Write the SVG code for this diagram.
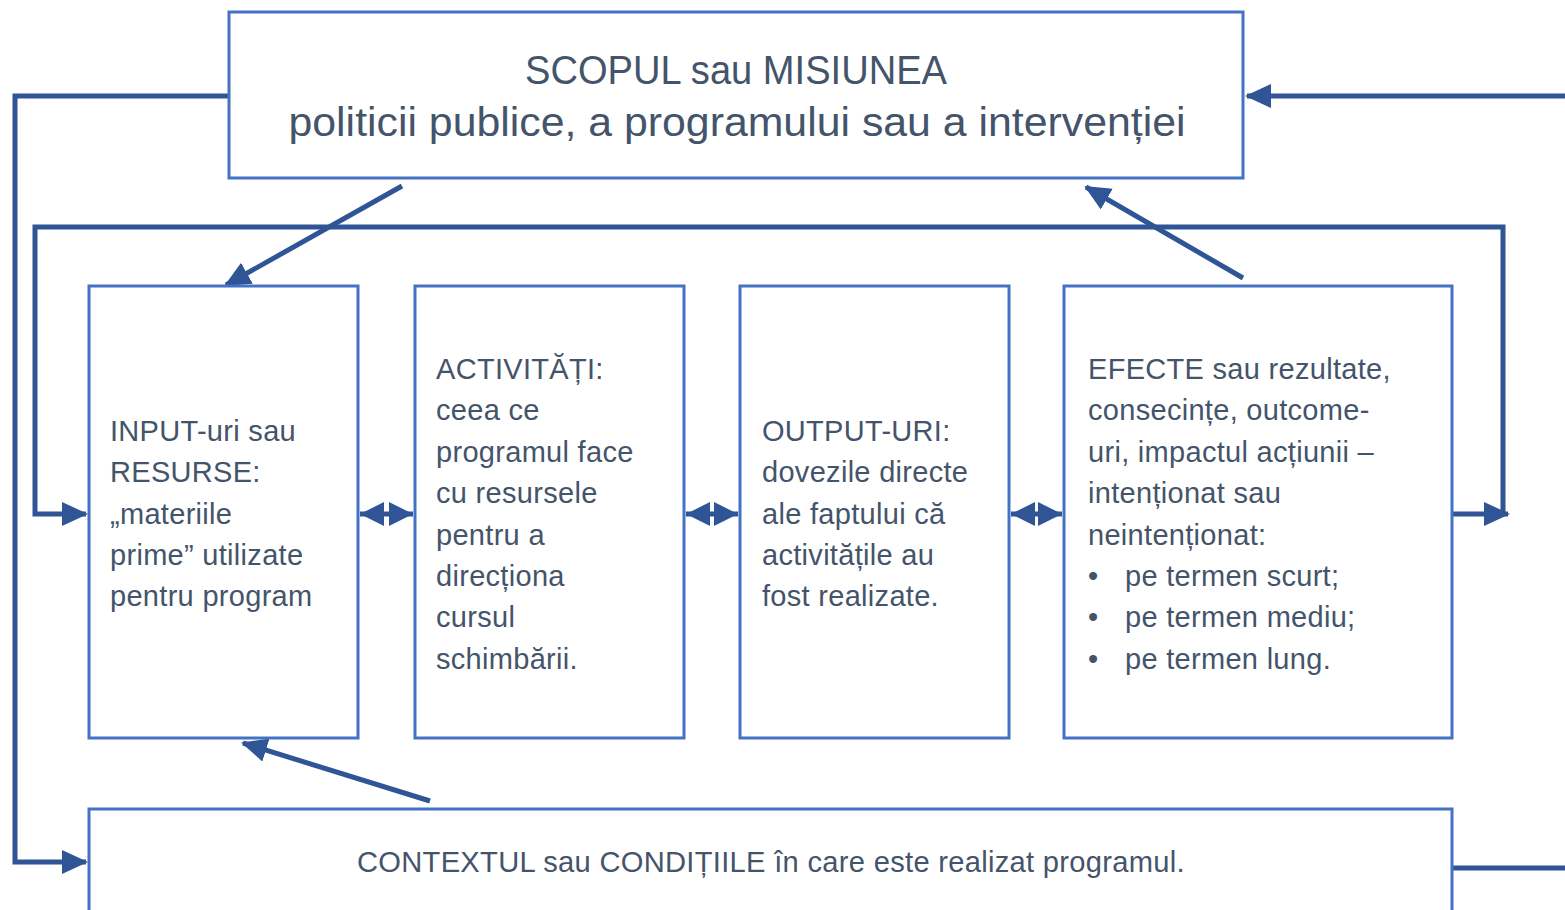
<svg xmlns="http://www.w3.org/2000/svg" width="1565" height="910" viewBox="0 0 1565 910">
<style>
.box{fill:#fff;stroke:#4472C4;stroke-width:3}
.t{font-family:"Liberation Sans",Arial,sans-serif;font-size:29px;letter-spacing:0.3px;fill:#44546A}
.tt{font-family:"Liberation Sans",Arial,sans-serif;font-size:40px;fill:#44546A}
.c{fill:none;stroke:#2F5597;stroke-width:5}
</style>
<defs>
<marker id="ah" markerUnits="userSpaceOnUse" markerWidth="26" markerHeight="24" refX="24" refY="12" orient="auto-start-reverse">
<path d="M0,0 L26,12 L0,24 Z" fill="#2F5597"/>
</marker>
<marker id="ah2" markerUnits="userSpaceOnUse" markerWidth="24" markerHeight="24" refX="24" refY="12" orient="auto-start-reverse">
<path d="M0,0 L24,12 L0,24 Z" fill="#2F5597"/>
</marker>
</defs>
<rect width="1565" height="910" fill="#fff"/>
<g id="connectors">
<polyline class="c" points="229,96 15,96 15,862 86,862" marker-end="url(#ah)"/>
<line class="c" x1="1565" y1="96" x2="1247" y2="96" marker-end="url(#ah)"/>
<polyline class="c" points="1503,512 1503,227 35,227 35,514 86,514" marker-end="url(#ah)"/>
<line class="c" x1="1452" y1="514" x2="1508" y2="514" marker-end="url(#ah)"/>
<line class="c" x1="402" y1="186" x2="226" y2="285" marker-end="url(#ah)"/>
<line class="c" x1="1243" y1="278" x2="1086" y2="187" marker-end="url(#ah)"/>
<line class="c" x1="430" y1="801" x2="243" y2="743" marker-end="url(#ah)"/>
<line class="c" x1="1452" y1="868" x2="1565" y2="868"/>
<line class="c" x1="360" y1="514" x2="413" y2="514" marker-start="url(#ah2)" marker-end="url(#ah2)"/>
<line class="c" x1="686" y1="514" x2="738" y2="514" marker-start="url(#ah2)" marker-end="url(#ah2)"/>
<line class="c" x1="1011" y1="514" x2="1062" y2="514" marker-start="url(#ah2)" marker-end="url(#ah2)"/>
</g>
<g id="scop">
<rect class="box" x="229" y="12" width="1014" height="166"/>
<text class="tt" x="736" y="84" text-anchor="middle" textLength="422" lengthAdjust="spacingAndGlyphs">SCOPUL sau MISIUNEA</text>
<text class="tt" x="737" y="136" text-anchor="middle" textLength="897" lengthAdjust="spacingAndGlyphs">politicii publice, a programului sau a intervenției</text>
</g>
<g id="input">
<rect class="box" x="89" y="286" width="269" height="452"/>
<text class="t" x="110" y="441">INPUT-uri sau</text>
<text class="t" x="110" y="482">RESURSE:</text>
<text class="t" x="110" y="524">„materiile</text>
<text class="t" x="110" y="565">prime” utilizate</text>
<text class="t" x="110" y="606">pentru program</text>
</g>
<g id="activitati">
<rect class="box" x="415" y="286" width="269" height="452"/>
<text class="t" x="436" y="379">ACTIVITĂȚI:</text>
<text class="t" x="436" y="420">ceea ce</text>
<text class="t" x="436" y="462">programul face</text>
<text class="t" x="436" y="503">cu resursele</text>
<text class="t" x="436" y="545">pentru a</text>
<text class="t" x="436" y="586">direcționa</text>
<text class="t" x="436" y="627">cursul</text>
<text class="t" x="436" y="669">schimbării.</text>
</g>
<g id="output">
<rect class="box" x="740" y="286" width="269" height="452"/>
<text class="t" x="762" y="441">OUTPUT-URI:</text>
<text class="t" x="762" y="482">dovezile directe</text>
<text class="t" x="762" y="524">ale faptului că</text>
<text class="t" x="762" y="565">activitățile au</text>
<text class="t" x="762" y="606">fost realizate.</text>
</g>
<g id="efecte">
<rect class="box" x="1064" y="286" width="388" height="452"/>
<text class="t" x="1088" y="379">EFECTE sau rezultate,</text>
<text class="t" x="1088" y="420">consecințe, outcome-</text>
<text class="t" x="1088" y="462">uri, impactul acțiunii –</text>
<text class="t" x="1088" y="503">intenționat sau</text>
<text class="t" x="1088" y="545">neintenționat:</text>
<text class="t" x="1088" y="586">•</text><text class="t" x="1125" y="586">pe termen scurt;</text>
<text class="t" x="1088" y="627">•</text><text class="t" x="1125" y="627">pe termen mediu;</text>
<text class="t" x="1088" y="669">•</text><text class="t" x="1125" y="669">pe termen lung.</text>
</g>
<g id="context">
<rect class="box" x="89" y="809" width="1363" height="120"/>
<text class="t" x="771" y="872" text-anchor="middle" textLength="828" lengthAdjust="spacingAndGlyphs">CONTEXTUL sau CONDIȚIILE în care este realizat programul.</text>
</g>
</svg>
